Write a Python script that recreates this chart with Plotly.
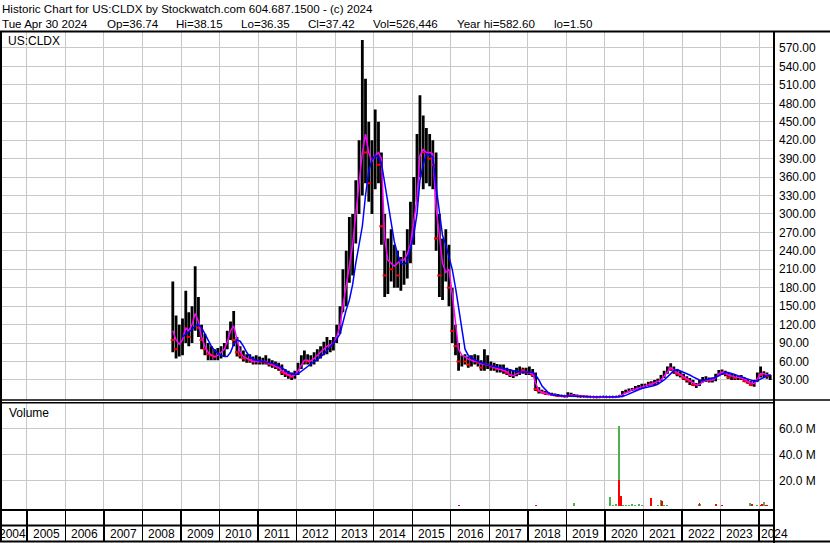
import plotly.graph_objects as go
import pandas as pd

W, H = 830, 543
FONT = "Liberation Sans, Arial, sans-serif"
GRID = "#c8c8c8"
GREEN = "#4fb04f"

# ---------------- data ----------------
symbol = "US:CLDX"
header_title = "Historic Chart for US:CLDX by Stockwatch.com 604.687.1500 - (c) 2024"
last_date_text = "Tue Apr 30 2024"
last_open, last_high, last_low, last_close = 36.74, 38.15, 36.35, 37.42
last_volume = 526446
year_high, year_low = 582.60, 1.50

months = pd.date_range("2008-10-01", "2024-04-01", freq="MS") + pd.Timedelta(days=14)

price_open = [
    110, 95, 80,
    100, 115, 130, 100, 135, 150, 115, 95, 80, 72, 70, 68,
    75, 80, 85, 105, 120, 95, 75, 70, 65, 68, 62, 60,
    62, 60, 62, 58, 56, 55, 52, 50, 42, 40, 38, 35,
    40, 52, 62, 65, 60, 62, 70, 72, 78, 85, 90, 85,
    95, 110, 140, 180, 200, 240, 280, 330, 380, 430, 400, 350,
    380, 420, 380, 280, 200, 230, 210, 220, 200, 215, 225, 260,
    300, 340, 410, 420, 400, 410, 390, 380, 260, 200, 230, 240,
    170, 110, 85, 60, 65, 60, 55, 62, 65, 58, 50, 62,
    55, 52, 50, 48, 50, 45, 42, 38, 40, 45, 48, 46,
    42, 45, 38, 15, 12, 10, 8, 7, 6, 5, 4, 4,
    3, 6, 4, 5, 3.5, 3, 3, 2.5, 2.5, 2.2, 2, 2.4,
    2.8, 2.0, 2.4, 2.5, 3, 4, 10, 12, 14, 15, 17, 19,
    21, 22, 25, 24, 27, 30, 36, 42, 50, 48, 44, 40,
    38, 33, 30, 28, 22, 22, 28, 32, 30, 29, 30, 38,
    44, 42, 40, 34, 36, 33, 34, 33, 28, 26, 22, 28,
    40, 38, 40, 36,
]
price_high = [
    190, 135, 120,
    130, 175, 140, 150, 215, 165, 120, 105, 90, 85, 80, 82,
    85, 90, 110, 125, 142, 100, 85, 78, 72, 72, 68, 70,
    68, 66, 70, 65, 62, 60, 58, 55, 48, 45, 42, 45,
    58, 70, 78, 72, 70, 75, 80, 85, 92, 100, 95, 100,
    120, 150, 210, 240, 295, 300, 355, 420, 583, 520, 450, 420,
    470, 450, 400, 300, 260, 275, 250, 240, 230, 240, 275, 320,
    360, 430, 493, 460, 440, 430, 420, 400, 300, 260, 275, 250,
    180, 120, 90, 70, 72, 68, 70, 72, 70, 62, 80, 70,
    60, 58, 56, 55, 55, 50, 48, 45, 50, 52, 50, 50,
    52, 48, 42, 18, 14, 12, 10, 9, 8, 7, 6, 5,
    10, 9, 7, 6, 5, 4.5, 4, 3.5, 3.5, 3, 3, 3.5,
    3, 3.5, 4, 4, 5, 12, 14, 16, 17, 20, 22, 24,
    24, 27, 28, 30, 32, 38, 45, 52, 57, 52, 48, 44,
    40, 36, 33, 30, 25, 30, 35, 36, 34, 34, 40, 46,
    47, 45, 42, 40, 38, 37, 38, 34, 31, 28, 30, 42,
    52, 44, 42, 38.15,
]
price_low = [
    75, 65, 68,
    70, 90, 85, 90, 110, 100, 80, 70, 62, 62, 62, 62,
    65, 68, 80, 95, 85, 68, 65, 60, 58, 58, 55, 55,
    55, 55, 55, 52, 50, 48, 45, 38, 35, 32, 30, 32,
    38, 48, 55, 55, 52, 55, 60, 65, 70, 72, 75, 78,
    90, 105, 140, 150, 188, 200, 252, 300, 330, 350, 320, 300,
    340, 350, 250, 165, 170, 190, 180, 180, 175, 185, 195, 220,
    250, 320, 360, 340, 350, 345, 340, 240, 165, 160, 190, 150,
    90, 70, 45, 52, 55, 50, 52, 55, 52, 45, 45, 48,
    45, 45, 42, 42, 40, 38, 35, 33, 36, 38, 40, 38,
    38, 35, 12, 8, 8, 6, 6, 5, 4, 3, 3, 2.5,
    3, 4, 3.5, 3, 2.5, 2.5, 2.2, 2, 2, 1.8, 1.7, 2,
    1.8, 1.5, 1.5, 2, 2.5, 4, 9, 10, 12, 13, 15, 16,
    18, 20, 21, 22, 24, 28, 33, 40, 45, 40, 36, 34,
    30, 26, 22, 20, 17, 20, 26, 27, 26, 26, 28, 36,
    38, 36, 32, 30, 30, 30, 30, 27, 24, 20, 19, 27,
    34, 34, 32, 30,
]
price_close = [
    95, 80, 100,
    115, 130, 100, 135, 150, 115, 95, 80, 72, 70, 68, 75,
    80, 85, 105, 120, 95, 75, 70, 65, 68, 62, 60, 62,
    60, 62, 58, 56, 55, 52, 50, 42, 40, 38, 35, 40,
    52, 62, 65, 60, 62, 70, 72, 78, 85, 90, 85, 95,
    110, 140, 180, 200, 240, 280, 330, 380, 430, 400, 350, 380,
    420, 380, 280, 200, 230, 210, 220, 200, 215, 225, 260, 300,
    340, 410, 420, 400, 410, 390, 380, 260, 200, 230, 240, 180,
    110, 85, 60, 65, 60, 55, 62, 65, 58, 50, 62, 55,
    52, 50, 48, 50, 45, 42, 38, 40, 45, 48, 46, 42,
    45, 38, 15, 12, 10, 8, 7, 6, 5, 4, 4, 3,
    6, 5, 5, 3.5, 3, 3, 2.5, 2.5, 2.2, 2, 2.4, 2.8,
    2.2, 2.4, 2.5, 3, 4, 10, 12, 14, 15, 17, 19, 21,
    22, 25, 24, 27, 30, 36, 42, 50, 48, 44, 40, 38,
    33, 30, 28, 22, 22, 28, 32, 30, 29, 30, 38, 44,
    42, 40, 34, 36, 33, 34, 33, 28, 26, 22, 28, 40,
    38, 40, 36, 37.42,
]
ma_short = [
    110, 95, 88,
    95, 115, 110, 120, 138, 125, 100, 85, 75, 70, 68, 70,
    75, 80, 92, 110, 118, 95, 75, 68, 65, 63, 60, 60,
    60, 60, 60, 57, 55, 53, 50, 45, 41, 38, 36, 38,
    45, 55, 62, 62, 61, 65, 70, 74, 80, 85, 87, 90,
    100, 118, 150, 180, 215, 250, 295, 350, 400, 430, 400, 385,
    395, 400, 390, 260, 225, 220, 215, 220, 225, 225, 235, 250,
    285, 325, 395, 405, 400, 400, 398, 310, 265, 220, 205, 210,
    170, 120, 80, 70, 68, 64, 62, 60, 60, 56, 56, 55,
    52, 50, 48, 47, 46, 43, 38, 37, 40, 42, 44, 43,
    42, 40, 25, 12, 10, 8, 7, 6, 5, 4.5, 4, 3.5,
    5, 5.5, 4.5, 4, 3.5, 3, 2.8, 2.6, 2.4, 2.2, 2.2, 2.5,
    2.5, 2.2, 2.2, 2.6, 3.2, 6, 9, 12, 14, 15, 17, 19,
    21, 22, 23, 25, 27, 30, 36, 44, 50, 46, 42, 38,
    35, 32, 29, 26, 22, 23, 27, 30, 30, 30, 33, 40,
    43, 42, 38, 36, 35, 34, 34, 31, 28, 25, 24, 32,
    40, 40, 38, 37,
]
ma_long = [
    None, None, None,
    100, 105, 108, 112, 118, 120, 115, 105, 95, 85, 78, 74,
    70, 68, 68, 75, 88, 95, 93, 85, 75, 68, 64, 62,
    61, 61, 60, 59, 57, 55, 53, 50, 46, 42, 40, 39,
    40, 44, 49, 53, 57, 60, 63, 67, 72, 78, 84, 90,
    96, 105, 125, 144, 160, 185, 220, 250, 280, 330, 370, 388,
    395, 392, 383, 350, 318, 285, 255, 235, 220, 218, 222, 245,
    265, 300, 355, 380, 398, 395, 393, 345, 305, 265, 250, 228,
    210, 180, 150, 115, 80, 70, 66, 63, 60, 58, 56, 54,
    53, 52, 51, 50, 49, 48, 46, 45, 44, 43, 43, 43,
    43, 42, 38, 30, 20, 14, 9, 6, 5, 4.5, 4, 4,
    4, 4.2, 4.3, 4, 3.7, 3.4, 3.1, 2.8, 2.6, 2.5, 2.4, 2.4,
    2.4, 2.3, 2.3, 2.4, 2.6, 3, 5, 7.5, 10, 12.5, 14, 16,
    17, 18, 19, 21, 23, 26, 30, 35, 40, 45, 47, 45,
    43, 41, 38, 35, 32, 30, 29, 30, 31, 32, 34, 37,
    40, 42, 42, 41, 39, 37, 35, 33, 31, 29, 28, 29,
    31, 34, 37, 38,
]
volume_m = [
    0.2, 0.2, 0.2,
    0.2, 0.2, 0.2, 0.2, 0.2, 0.2, 0.2, 0.2, 0.2, 0.2, 0.2, 0.2,
    0.2, 0.2, 0.2, 0.2, 0.2, 0.2, 0.2, 0.2, 0.2, 0.2, 0.2, 0.2,
    0.1, 0.1, 0.1, 0.1, 0.1, 0.1, 0.1, 0.1, 0.1, 0.1, 0.1, 0.1,
    0.1, 0.1, 0.1, 0.1, 0.1, 0.1, 0.1, 0.1, 0.1, 0.1, 0.1, 0.1,
    0.2, 0.2, 0.2, 0.2, 0.2, 0.2, 0.2, 0.2, 0.2, 0.2, 0.2, 0.2,
    0.2, 0.2, 0.2, 0.2, 0.2, 0.2, 0.2, 0.2, 0.2, 0.2, 0.2, 0.4,
    0.2, 0.2, 0.2, 0.2, 0.2, 0.2, 0.2, 0.2, 0.2, 0.2, 0.2, 0.2,
    0.3, 0.3, 1.0, 0.2, 0.2, 0.2, 0.2, 0.2, 0.2, 0.2, 0.2, 0.2,
    0.2, 0.2, 0.2, 0.2, 0.2, 0.2, 0.2, 0.2, 0.2, 0.2, 0.2, 0.2,
    0.3, 0.3, 0.8, 0.3, 0.4, 0.2, 0.2, 0.2, 0.2, 0.2, 0.2, 0.3,
    0.4, 0.5, 2.5, 0.5, 0.3, 0.3, 0.3, 0.3, 0.3, 0.3, 0.6, 0.4,
    0.5, 7.5, 0.8, 1.5, 62, 1.0, 0.8, 0.8, 2.0, 0.8, 1.5, 0.8,
    0.5, 0.6, 6.5, 0.6, 0.8, 5.0, 0.8, 1.0, 0.6, 0.6, 0.5, 0.5,
    0.6, 0.5, 0.6, 0.5, 0.6, 1.5, 0.6, 0.5, 0.5, 0.5, 0.6, 0.5,
    0.8, 0.5, 0.5, 0.6, 0.5, 0.5, 0.5, 0.5, 0.6, 0.5, 0.6, 0.8,
    0.8, 3.0, 0.8, 0.5,
]
# individual heavy-volume days (millions), True = up day
spike_dates = ["2020-05-15", "2020-06-02", "2021-06-25", "2022-06-15",
               "2022-11-15", "2023-10-08", "2023-10-28", "2024-01-25", "2024-03-10"]
spike_values = [20, 8, 4, 2.5, 2, 2.5, 1.5, 1.5, 1]
spike_up = [False, False, False, False, False, True, False, False, False]

price_ticks = [30, 60, 90, 120, 150, 180, 210, 240, 270, 300, 330, 360,
               390, 420, 450, 480, 510, 540, 570]
volume_ticks = [20, 40, 60]
years = [2004, 2005, 2006, 2007, 2008, 2009, 2010, 2011, 2012, 2013, 2014,
         2015, 2016, 2017, 2018, 2019, 2020, 2021, 2022, 2023, 2024]

x_range = ["2004-05-01", "2024-05-21"]


# ---------------- helpers (pixel -> paper) ----------------
def px(x):
    return x / W


def py(y):
    return (H - y) / H


fig = go.Figure()

# price bars
fig.add_trace(go.Ohlc(
    x=months, open=price_open, high=price_high, low=price_low, close=price_close,
    increasing=dict(line=dict(color="black", width=2.8)),
    decreasing=dict(line=dict(color="black", width=2.8)),
    tickwidth=0.2, xaxis="x", yaxis="y", hoverinfo="skip", showlegend=False,
))
down_x = [m for m, o, c in zip(months, price_open, price_close) if c < o]
down_c = [c for o, c in zip(price_open, price_close) if c < o]
fig.add_trace(go.Scatter(
    x=down_x, y=down_c, mode="markers", xaxis="x", yaxis="y",
    marker=dict(symbol="line-ew", size=3, line=dict(color="red", width=2)),
    hoverinfo="skip", showlegend=False,
))
fig.add_trace(go.Scatter(
    x=months, y=ma_short, mode="lines", xaxis="x", yaxis="y",
    line=dict(color="#ff00ff", width=1.5), hoverinfo="skip", showlegend=False,
))
fig.add_trace(go.Scatter(
    x=months, y=ma_long, mode="lines", xaxis="x", yaxis="y",
    line=dict(color="#0000ff", width=1.5), hoverinfo="skip", showlegend=False,
))

# volume
vol_colors = [GREEN if c >= o else "red" for o, c in zip(price_open, price_close)]
fig.add_trace(go.Bar(
    x=months, y=volume_m, marker=dict(color=vol_colors, line=dict(width=0)),
    width=1.7e9, xaxis="x2", yaxis="y2", hoverinfo="skip", showlegend=False,
))
fig.add_trace(go.Bar(
    x=pd.to_datetime(spike_dates), y=spike_values,
    marker=dict(color=[GREEN if u else "red" for u in spike_up], line=dict(width=0)),
    width=1.5e9, xaxis="x2", yaxis="y2", hoverinfo="skip", showlegend=False,
))
# empty date strip (carries the year separators)
fig.add_trace(go.Scatter(x=[x_range[0]], y=[-1], mode="markers", marker=dict(opacity=0),
                         xaxis="x3", yaxis="y3", hoverinfo="skip", showlegend=False))

xdom = [px(1), px(774)]
common_x = dict(domain=xdom, range=x_range, type="date", showgrid=True,
                gridcolor=GRID, gridwidth=1, tick0="2005-01-01", dtick="M12",
                showticklabels=False, ticks="", zeroline=False, showline=False,
                fixedrange=True)

fig.update_layout(
    width=W, height=H, margin=dict(l=0, r=0, t=0, b=0, pad=0),
    paper_bgcolor="white", plot_bgcolor="white", showlegend=False,
    barmode="overlay", bargap=0,
    font=dict(family=FONT, size=12, color="black"),
    xaxis=dict(**common_x, anchor="y", rangeslider=dict(visible=False)),
    xaxis2=dict(**common_x, anchor="y2", matches="x"),
    xaxis3=dict(**{**common_x, "gridcolor": "black", "gridwidth": 1.3}, anchor="y3", matches="x"),
    yaxis=dict(domain=[py(400), py(31)], range=[-2.6, 597.6], side="right", anchor="x",
               tickvals=price_ticks, ticktext=[f"{v:.2f}" for v in price_ticks],
               showgrid=True, gridcolor=GRID, gridwidth=1, ticks="", zeroline=False,
               showline=False, ticklabelstandoff=4, automargin=False, fixedrange=True,
               tickfont=dict(family=FONT, size=12, color="black")),
    yaxis2=dict(domain=[py(510), py(403)], range=[-2.85, 79.46], side="right", anchor="x2",
                tickvals=volume_ticks, ticktext=[f"{v:.1f} M" for v in volume_ticks],
                showgrid=True, gridcolor=GRID, gridwidth=1, ticks="", zeroline=False,
                showline=False, ticklabelstandoff=4, automargin=False, fixedrange=True,
                tickfont=dict(family=FONT, size=12, color="black")),
    yaxis3=dict(domain=[py(541), py(510)], range=[0, 1], showgrid=False, showticklabels=False,
                ticks="", zeroline=False, showline=False, anchor="x3", fixedrange=True),
)

# frame lines
frame = [
    (0, 31.5, 830, 31.5, 2),
    (0, 400, 830, 400, 1.5),
    (0, 402.8, 774, 402.8, 1.5),
    (0, 510, 774, 510, 2),
    (0, 525.5, 774, 525.5, 2),
    (0, 541.5, 830, 541.5, 2),
    (1, 31, 1, 542, 2),
    (774, 31, 774, 543, 2),
]
for x0, y0, x1, y1, w in frame:
    fig.add_shape(type="line", xref="paper", yref="paper",
                  x0=px(x0), y0=py(y0), x1=px(x1), y1=py(y1),
                  line=dict(color="black", width=w), layer="above")

HDR = 11.6


def label(text, x, y, anchor="left", size=HDR):
    fig.add_annotation(text=text, xref="paper", yref="paper", x=px(x), y=py(y),
                       xanchor=anchor, yanchor="middle", showarrow=False,
                       font=dict(family=FONT, size=size, color="black"), borderpad=0)


label(header_title, 1, 8.5)
label(last_date_text, 1, 23)
label(f"Op={last_open:.2f}", 106, 23)
label(f"Hi={last_high:.2f}", 175, 23)
label(f"Lo={last_low:.2f}", 240, 23)
label(f"Cl={last_close:.2f}", 307, 23)
label(f"Vol={last_volume:,}", 372, 23)
label(f"Year hi={year_high:.2f}", 456, 23)
label(f"lo={year_low:.2f}", 553, 23)
label(symbol, 7, 41.5, size=12)
label("Volume", 8, 413, size=12)

# year labels along the bottom
for yr in years:
    if yr == years[0]:
        fig.add_annotation(text=str(yr), xref="x3", yref="paper", x=f"{yr + 1}-01-01",
                           y=py(534), xanchor="right", yanchor="middle", showarrow=False,
                           xshift=1, font=dict(family=FONT, size=12, color="black"))
    elif yr == years[-1]:
        fig.add_annotation(text=str(yr), xref="x3", yref="paper", x=f"{yr}-01-01",
                           y=py(534), xanchor="left", yanchor="middle", showarrow=False,
                           font=dict(family=FONT, size=12, color="black"))
    else:
        fig.add_annotation(text=str(yr), xref="x3", yref="paper", x=f"{yr}-07-02",
                           y=py(534), xanchor="center", yanchor="middle", showarrow=False,
                           font=dict(family=FONT, size=12, color="black"))

fig.write_html(
    "out.html",
    config={"displayModeBar": False, "staticPlot": True},
    post_script="document.body.style.margin='0px';document.body.style.padding='0px';"
                "document.body.style.overflow='hidden';",
)
